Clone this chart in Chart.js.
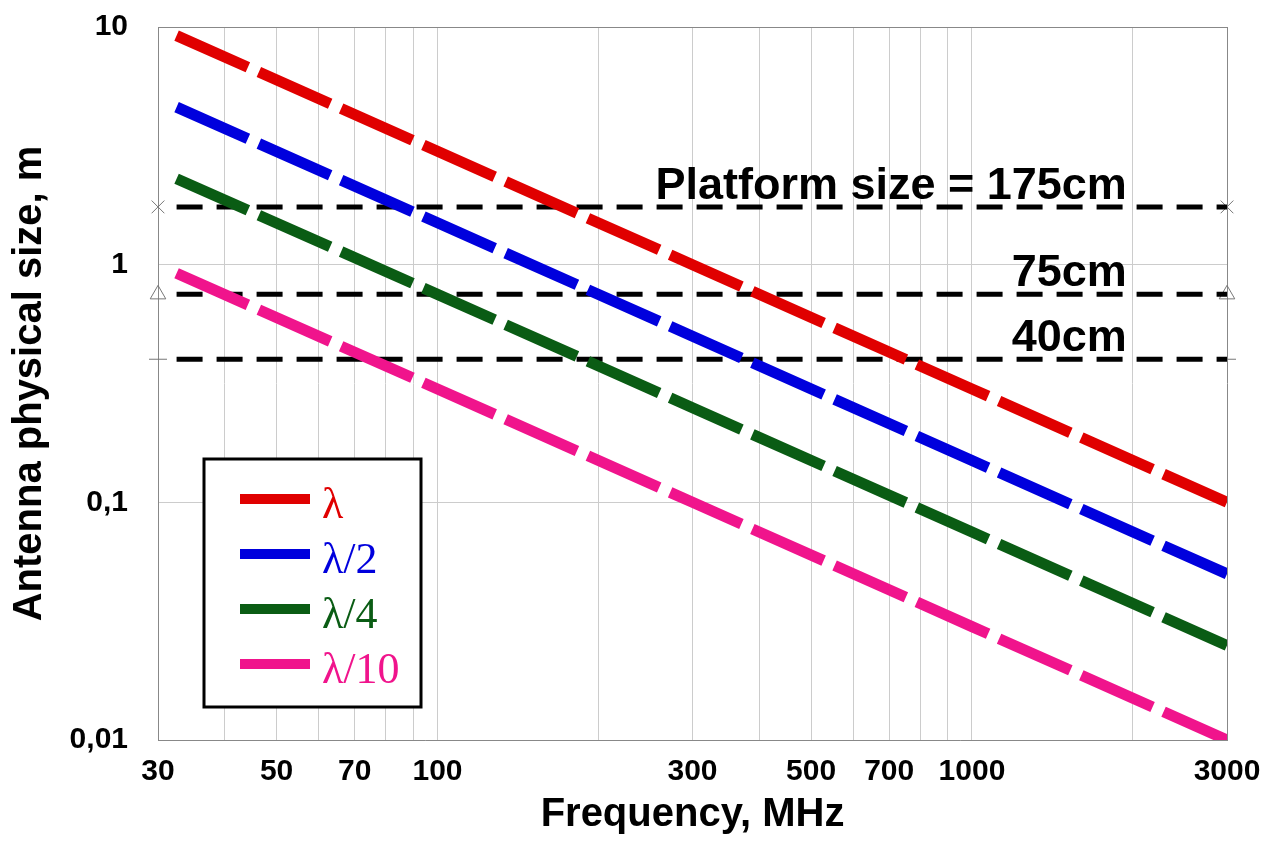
<!DOCTYPE html>
<html><head><meta charset="utf-8">
<script src="https://cdn.jsdelivr.net/npm/chart.js@4.4.0/dist/chart.umd.min.js"></script>
<style>html,body{margin:0;padding:0;background:#fff}#wrap{width:1275px;height:846px}</style>
</head><body><div id="wrap"><canvas id="c" width="1275" height="846"></canvas></div>
<script>
// ---- data ----
const frequencyMHz   = [32.5, 100, 300, 1000, 3000];
const lambdaFull     = [9.2, 3.0, 1.0, 0.3, 0.1];
const lambdaHalf     = [4.6, 1.5, 0.5, 0.15, 0.05];
const lambdaQuarter  = [2.3, 0.75, 0.25, 0.075, 0.025];
const lambdaTenth    = [0.92, 0.3, 0.1, 0.03, 0.01];
const seriesNames    = ['λ', 'λ/2', 'λ/4', 'λ/10'];
const seriesColors   = ['#e00000', '#0000dd', '#0a5c14', '#f0148c'];

const platformFreq   = [32.5, 3000];
const markerFreq     = [30, 3000];
const platformSizes  = [1.75, 0.75, 0.4];
const platformLabels = ['Platform size = 175cm', '75cm', '40cm'];
const platformMarks  = ['crossRot', 'triangle', 'line'];

const xTickValues = [30,40,50,60,70,80,90,100,200,300,400,500,600,700,800,900,1000,2000,3000];
const xTickLabels = ['30','50','70','100','300','500','700','1000','3000'];
const yTickValues = [0.01, 0.1, 1, 10];
const yTickLabels = ['0,01', '0,1', '1', '10'];

// ---- datasets ----
const seriesValues = [lambdaFull, lambdaHalf, lambdaQuarter, lambdaTenth];
const datasets = [];
seriesValues.forEach((vals, i) => {
  datasets.push({
    label: seriesNames[i],
    data: frequencyMHz.map((f, k) => ({x: f, y: vals[k]})),
    borderColor: seriesColors[i],
    backgroundColor: seriesColors[i],
    borderWidth: 11,
    borderDash: [78, 12],
    borderCapStyle: 'butt',
    pointRadius: 0,
    tension: 0
  });
});
platformSizes.forEach((v, i) => {
  datasets.push({
    label: platformLabels[i],
    data: platformFreq.map(f => ({x: f, y: v})),
    borderColor: '#000',
    borderWidth: 5,
    borderDash: [26, 14],
    borderCapStyle: 'butt',
    pointRadius: 0
  });
  datasets.push({
    label: platformLabels[i] + ' marker',
    data: markerFreq.map(f => ({x: f, y: v})),
    showLine: false,
    clip: false,
    pointStyle: platformMarks[i],
    pointRadius: 9,
    pointBorderColor: '#777',
    pointBackgroundColor: 'rgba(0,0,0,0)',
    pointBorderWidth: 1
  });
});

const sans = '"Liberation Sans", Arial, sans-serif';
const serif = '"Liberation Serif", "Times New Roman", serif';

const annotationPlugin = {
  id: 'platformText',
  afterDatasetsDraw(chart) {
    const {ctx, scales: {x, y}} = chart;
    ctx.save();
    ctx.font = 'bold 45px ' + sans;
    ctx.fillStyle = '#000';
    ctx.textAlign = 'right';
    ctx.textBaseline = 'alphabetic';
    platformSizes.forEach((v, i) => {
      ctx.fillText(platformLabels[i], x.getPixelForValue(2000) - 6, y.getPixelForValue(v) - 8);
    });
    ctx.restore();
  }
};

const legendPlugin = {
  id: 'boxLegend',
  afterDraw(chart) {
    const {ctx, chartArea} = chart;
    const left = chartArea.left + 46, top = chartArea.top + 432;
    const w = 217, h = 248;
    ctx.save();
    ctx.fillStyle = '#fff';
    ctx.fillRect(left, top, w, h);
    ctx.lineWidth = 3;
    ctx.strokeStyle = '#000';
    ctx.strokeRect(left, top, w, h);
    ctx.font = '44px ' + serif;
    ctx.textAlign = 'left';
    ctx.textBaseline = 'alphabetic';
    seriesNames.forEach((name, i) => {
      const ly = top + 40 + i * 55;
      ctx.strokeStyle = seriesColors[i];
      ctx.lineWidth = 10;
      ctx.beginPath();
      ctx.moveTo(left + 36, ly);
      ctx.lineTo(left + 106, ly);
      ctx.stroke();
      ctx.fillStyle = seriesColors[i];
      ctx.fillText(name, left + 118, ly + 19);
    });
    ctx.restore();
  }
};

new Chart(document.getElementById('c'), {
  type: 'line',
  data: {datasets},
  options: {
    responsive: false,
    animation: false,
    events: [],
    layout: {padding: {top: 27, right: 48, left: 0, bottom: 0}},
    plugins: {legend: {display: false}, tooltip: {enabled: false}},
    scales: {
      x: {
        type: 'logarithmic',
        min: 30, max: 3000,
        afterBuildTicks(scale) { scale.ticks = xTickValues.map(v => ({value: v})); },
        afterFit(scale) { scale.height = 106; scale.paddingLeft = 0; scale.paddingRight = 0; },
        ticks: {
          autoSkip: false, maxRotation: 0, padding: 14,
          color: '#000', font: {family: sans, size: 30, weight: 'bold', lineHeight: 1.2},
          callback(v) { const s = String(v); return xTickLabels.includes(s) ? s : ''; }
        },
        grid: {
          drawTicks: false,
          color: ctx => (ctx.tick && (ctx.tick.value === 3000)) ? '#888' : '#cccccc',
          lineWidth: 1
        },
        border: {color: '#888', width: 1},
        title: {display: true, text: 'Frequency, MHz', color: '#000',
          font: {family: sans, size: 40, weight: 'bold', lineHeight: 1.2}, padding: {top: 0, bottom: 7}}
      },
      y: {
        type: 'logarithmic',
        min: 0.01, max: 10,
        afterBuildTicks(scale) { scale.ticks = yTickValues.map(v => ({value: v})); },
        afterFit(scale) { scale.width = 158; scale.paddingTop = 0; scale.paddingBottom = 0; },
        ticks: {
          autoSkip: false, padding: 30,
          color: '#000', font: {family: sans, size: 30, weight: 'bold', lineHeight: 1.2},
          callback(v) { const k = yTickValues.indexOf(v); return k >= 0 ? yTickLabels[k] : ''; }
        },
        grid: {
          drawTicks: false,
          color: ctx => (ctx.tick && ctx.tick.value === 10) ? '#888' : '#cccccc',
          lineWidth: 1
        },
        border: {color: '#888', width: 1},
        title: {display: true, text: 'Antenna physical size, m', color: '#000',
          font: {family: sans, size: 40, weight: 'bold', lineHeight: 1.2}, padding: {top: 6, bottom: 0}}
      }
    }
  },
  plugins: [annotationPlugin, legendPlugin]
});
</script>
</body></html>
